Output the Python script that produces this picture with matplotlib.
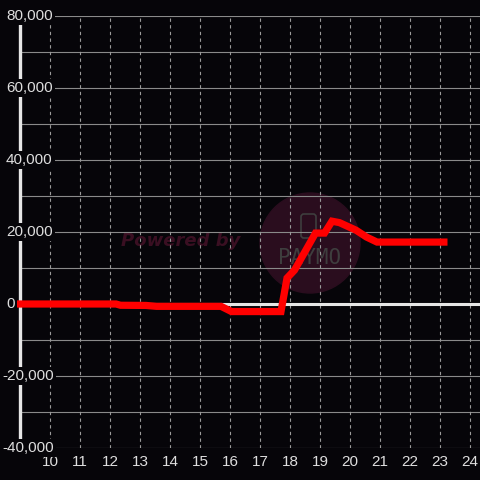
import matplotlib.pyplot as plt
from matplotlib.patches import Circle, FancyBboxPatch
import matplotlib.transforms as mtransforms

# hour of day vs value
hours = [8.9, 12.2, 12.35, 13.2, 13.55, 15.7, 16.05, 17.7, 17.9, 18.15,
         18.85, 19.15, 19.4, 19.65, 20.2, 20.55, 20.9, 23.25]
values = [0, 0, -350, -400, -650, -650, -2100, -2100, 7200, 9400,
          19700, 19700, 23000, 22600, 20500, 18600, 17200, 17200]

x_ticks = list(range(10, 25))
y_ticks = [80000, 60000, 40000, 20000, 0, -20000, -40000]
y_grid = list(range(-40000, 80001, 10000))

BG = '#060509'
TXT = '#dedede'

fig = plt.figure(figsize=(4.8, 4.8), dpi=100)
fig.patch.set_facecolor(BG)
ax = fig.add_axes([20 / 480, 32 / 480, 460 / 480, 432 / 480])
ax.set_facecolor(BG)
ax.set_xlim(9.0, 9.0 + 460 / 30)
ax.set_ylim(-40000, 80000)
for s in ax.spines.values():
    s.set_visible(False)

# watermark, behind everything inside the axes
ax.add_patch(Circle((310 / 480, 1 - 243 / 480), 50 / 480, transform=fig.transFigure,
                    color='#2a0d1e', zorder=0.2, clip_on=False))
ax.add_patch(FancyBboxPatch((301 / 480, 1 - 238 / 480), 15 / 480, 24 / 480,
                            boxstyle='round,pad=0,rounding_size=0.006',
                            transform=fig.transFigure, fill=False, clip_on=False,
                            edgecolor='#3e3e3e', lw=1.2, zorder=0.3))
ax.text(310 / 480, 1 - 258 / 480, 'PAYMO', color='#3e3e3e', fontsize=15,
        ha='center', va='center', family='DejaVu Sans Mono', zorder=0.3,
        transform=fig.transFigure)
ax.text(181 / 480, 1 - 241 / 480, 'Powered by', color='#3a0f22', fontsize=13,
        ha='center', va='center', fontweight='bold', fontstyle='italic', zorder=0.3,
        transform=fig.transFigure)

# grid
for v in y_grid:
    ax.axhline(v, color='#8a8a8a', lw=0.8, zorder=1)
for h in x_ticks:
    ax.axvline(h, color='#9a9a9a', lw=0.8, ls=(0, (3, 3)), zorder=1)

ax.axhline(0, color='#e6e6e6', lw=2.2, zorder=2)
ax.axvline(9.0, ymin=0, ymax=(448 - 24) / 432, color='#e6e6e6', lw=2.4,
           clip_on=False, zorder=2)

# y labels sit over the axis with a dark box, left aligned
for v in y_ticks:
    x0 = 2 if v < 0 else 6
    fig.text(x0 / 480, ax.transData.transform((9, v))[1] / 480, '{:,}'.format(v),
             ha='left', va='center', color=TXT, fontsize=11, family='Liberation Sans',
             zorder=4, bbox=dict(boxstyle='square,pad=0.15', fc=BG, ec='none'))

ax.plot(hours, values, color='#ff0000', lw=5.2, solid_capstyle='butt',
        solid_joinstyle='miter', zorder=5, clip_on=False)

ax.set_yticks([])
ax.set_xticks(x_ticks)
ax.set_xticklabels([str(h) for h in x_ticks], color=TXT, fontsize=11,
                   family='Liberation Sans')
ax.tick_params(axis='x', length=0, pad=5)

fig.savefig('out.png', dpi=100, facecolor=BG)
